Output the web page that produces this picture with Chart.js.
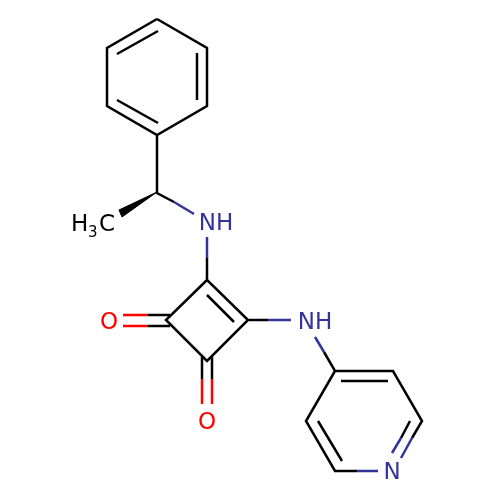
<!DOCTYPE html>
<html><head><meta charset="utf-8">
<style>html,body{margin:0;padding:0;background:#fff}canvas{display:block}</style>
<script src="https://cdn.jsdelivr.net/npm/chart.js@4"></script></head>
<body><canvas id="c" width="500" height="500"></canvas>
<script>
// Each bond is a pair of [x, y] atoms; null separates bonds.
const blackBonds = [
 [157,19],[207,48],[207,106],[157,135],[107,106],[107,48],[157,19],null,
 [158,31],[117,54],null,[197,53],[197,100],null,[117,100],[158,123],null,
 [157,135],[157,193],[174,202],null,
 [207,258],[207,280],[248,320],[207,361],[166,320],[207,280],null,
 [207,295],[234,322],null,[248,320],[268,320],null,
 [170,315],[148,315],null,[170,326],[148,326],null,
 [202,356],[202,379],null,[212,356],[212,379],null,
 [324,352],[335,371],[393,371],[422,421],[412,438],null,
 [341,381],[388,381],null,[410,421],[401,438],null,
 [335,371],[306,421],[335,471],[357,471],null,[318,421],[342,461]
];
const blueBonds = [
 [174,202],[194,214],null,[207,237],[207,258],null,[268,320],[291,320],null,
 [315,337],[324,352],null,[412,438],[401,458],null,[401,438],[392,453],null,[357,471],[378,471]
];
const redBonds = [
 [148,315],[123,315],null,[148,326],[123,326],null,[202,379],[202,404],null,[212,379],[212,404]
];
const wedge = [[157,192],[119,210],[122,217],[157,192]];
const labelText = ["NH","NH","N","O","O","C"];
const labelX = [216,315,392,109,207,107];
const labelY = [224,323,473,323,423,225];
const labelColor = ["#333399","#333399","#333399","#ff0000","#ff0000","#000000"];
const methylLabel = {h:"H", sub:"3", x:71, y:225};

const toPts = a => a.map(p => p ? {x:p[0],y:p[1]} : {x:null,y:null});
const line = (arr,color) => ({data:toPts(arr),showLine:true,borderColor:color,borderWidth:2.5,pointRadius:0,
  borderCapStyle:'butt',borderJoinStyle:'miter',spanGaps:false,fill:false});

const labels = {
 id:'atomLabels',
 afterDatasetsDraw(chart){
  const {ctx,scales:{x,y}} = chart;
  ctx.save();
  ctx.textBaseline='middle';ctx.textAlign='center';
  ctx.font='23px "DejaVu Sans"';
  labelText.forEach((t,i)=>{
    ctx.fillStyle=labelColor[i];
    ctx.fillText(t,x.getPixelForValue(labelX[i]),y.getPixelForValue(labelY[i]));
  });
  ctx.fillStyle='#000';
  ctx.textAlign='left';
  ctx.fillText(methylLabel.h,x.getPixelForValue(methylLabel.x),y.getPixelForValue(methylLabel.y));
  ctx.font='15px "DejaVu Sans"';
  ctx.fillText(methylLabel.sub,x.getPixelForValue(methylLabel.x+17),y.getPixelForValue(methylLabel.y+8));
  ctx.restore();
 }
};

new Chart(document.getElementById('c'),{
 type:'scatter',
 data:{datasets:[
  line(blackBonds,'#000000'),
  line(blueBonds,'#333399'),
  line(redBonds,'#ff0000'),
  {data:toPts(wedge),showLine:true,borderColor:'#000',backgroundColor:'#000',borderWidth:1,pointRadius:0,fill:'shape'}
 ]},
 options:{responsive:false,animation:false,
  layout:{padding:0},
  plugins:{legend:{display:false},tooltip:{enabled:false}},
  scales:{x:{type:'linear',min:0,max:500,display:false},y:{type:'linear',min:0,max:500,reverse:true,display:false}}
 },
 plugins:[labels]
});
</script></body></html>
